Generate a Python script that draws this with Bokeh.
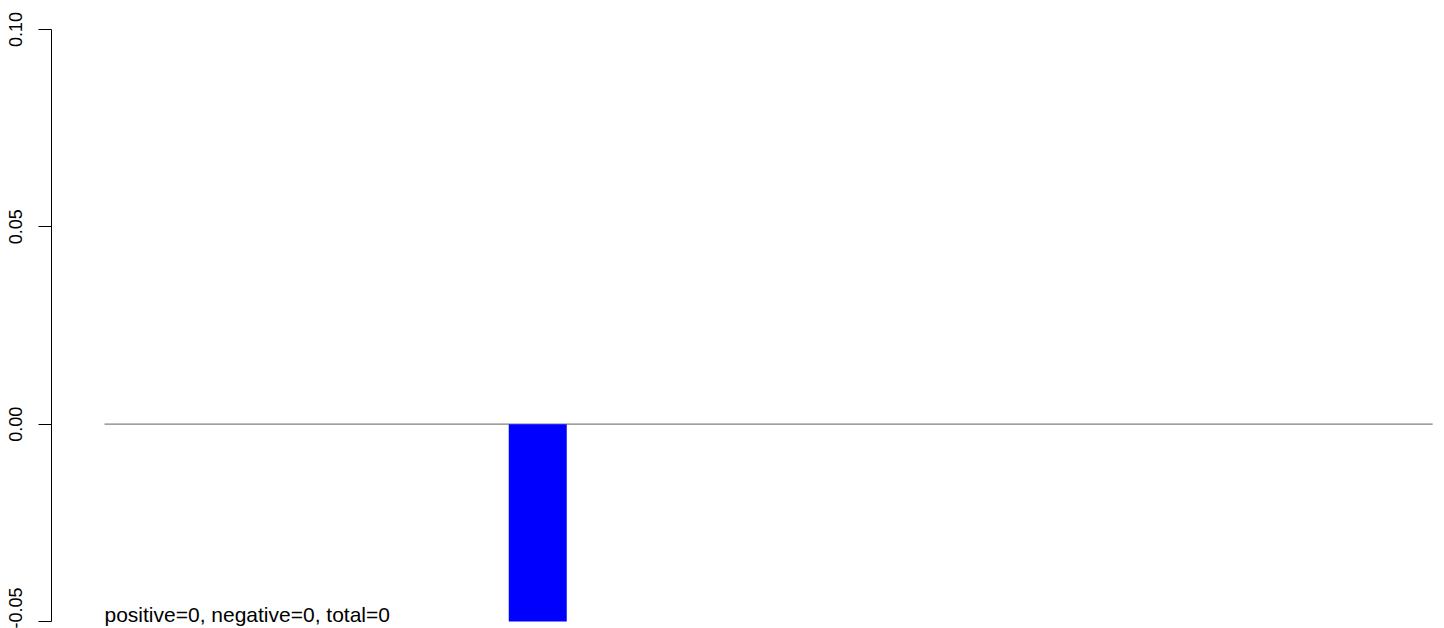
from bokeh.plotting import figure
from bokeh.models import Range1d, FixedTicker, NumeralTickFormatter
from bokeh.core.properties import value
from bokeh.embed import file_html
from bokeh.resources import INLINE

# ---- data ----
bar_x = [7.47]          # bar centre (in bar-width units)
bar_values = [-0.05]
y_ticks = [-0.05, 0.0, 0.05, 0.10]
count_label = "positive=0, negative=0, total=0"
baseline_extent = [0.0, 22.9]

FONT = "Liberation Sans"

p = figure(width=1436, height=628, output_backend="svg", toolbar_location=None,
           x_range=Range1d(-0.9138, 22.966), y_range=Range1d(-0.051774, 0.107348),
           min_border_left=51, min_border_right=0, min_border_top=0, min_border_bottom=0)
p.xaxis.visible = False
p.xgrid.visible = False
p.ygrid.visible = False
p.outline_line_color = None
p.background_fill_color = "white"
p.border_fill_color = "white"

# baseline
p.line(baseline_extent, [0, 0], line_color="#808080", line_width=1.2)

# bars
p.vbar(x=bar_x, top=bar_values, bottom=0, width=1.0, fill_color="#0000ff", line_color=None)

# annotation text
p.text(x=[0.0], y=[y_ticks[0]], text=[count_label], text_font=value(FONT),
       text_font_size="21px", text_color="black", text_baseline="bottom",
       text_align="left", y_offset=5)

ax = p.yaxis[0]
ax.ticker = FixedTicker(ticks=y_ticks)
ax.formatter = NumeralTickFormatter(format="0.00")
ax.bounds = (y_ticks[0], y_ticks[-1])
ax.major_label_orientation = "vertical"
ax.major_tick_out = 13
ax.major_tick_in = 0
ax.minor_tick_out = 0
ax.minor_tick_in = 0
ax.major_label_standoff = 16
ax.major_label_text_font = FONT
ax.major_label_text_font_size = "18px"
ax.major_label_text_color = "black"
ax.axis_line_color = "black"
ax.major_tick_line_color = "black"

open("out.html", "w").write(file_html(p, INLINE))
